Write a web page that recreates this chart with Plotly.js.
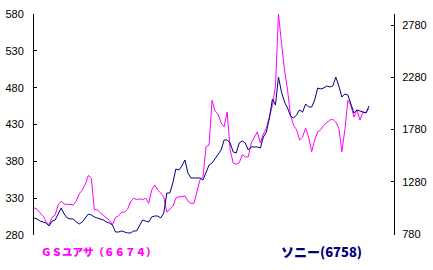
<!DOCTYPE html>
<html>
<head>
<meta charset="utf-8">
<script src="https://cdn.plot.ly/plotly-3.0.1.min.js"></script>
<style>
html,body{margin:0;padding:0;background:#fff;}
#chart{width:433px;height:270px;}
</style>
</head>
<body>
<div id="chart"></div>
<script>
// Time index (weekly samples)
const periods = Array.from({length: 112}, (_, i) => i);

// GSユアサ(6674) closing prices (left axis)
const gsYuasa = [
  317,315,310,306,298,294,304,307,321,326,
  322,322,322,321,326,336,341,349,361,357,
  314,314,310,307,304,300,294,304,306,311,
  311,315,325,330,328,329,328,330,323,341,
  348,341,337,332,311,315,319,330,332,332,
  333,326,323,323,338,355,359,400,402,463,
  448,444,432,427,447,395,378,376,378,389,
  386,386,405,413,420,405,417,425,442,456,
  481,580,541,504,477,442,429,423,409,413,
  425,413,393,409,420,423,429,433,436,437,
  433,425,393,423,463,456,440,450,436,447,
  446,452
];

// ソニー(6758) closing prices (right axis)
const sony = [
  933,924,904,895,885,857,904,914,971,1029,
  971,933,924,924,895,876,895,933,971,962,
  943,933,924,914,895,885,866,799,799,809,
  799,790,790,809,809,857,914,904,895,943,
  952,952,933,981,1172,1172,1268,1402,1392,1431,
  1488,1364,1316,1316,1316,1316,1297,1373,1440,1459,
  1498,1536,1584,1680,1680,1651,1565,1555,1651,1670,
  1651,1584,1613,1613,1613,1603,1708,1756,1890,2072,
  2014,2282,2139,2043,1986,1909,1890,1919,1967,1947,
  2024,1995,1995,2062,2177,2168,2177,2196,2187,2196,
  2282,2196,2091,2120,2110,2024,1938,1967,1957,1947,
  1938,2005
];

const leftTicks = [280, 330, 380, 430, 480, 530, 580];
const rightTicks = [780, 1280, 1780, 2280, 2780];
const gsLabel = 'ＧＳユアサ（６６７４）';
const sonyLabel = 'ソニー(6758)';

const traces = [
  {x: periods, y: gsYuasa, type: 'scatter', mode: 'lines', yaxis: 'y',
   line: {color: '#FF00FF', width: 1}, hoverinfo: 'skip'},
  {x: periods, y: sony, type: 'scatter', mode: 'lines', yaxis: 'y2',
   line: {color: '#000080', width: 1}, hoverinfo: 'skip'}
];

const tickFont = {family: 'Liberation Sans, Arial, sans-serif', size: 11, color: '#000'};

const layout = {
  width: 433, height: 270,
  margin: {l: 34, r: 39, t: 14, b: 35, pad: 0},
  paper_bgcolor: '#fff', plot_bgcolor: '#fff',
  showlegend: false,
  xaxis: {range: [0, 119.28], visible: false, fixedrange: true},
  yaxis: {
    range: [280, 580], tickvals: leftTicks, ticktext: leftTicks.map(String),
    showline: true, linecolor: '#000', linewidth: 1,
    ticks: 'inside', ticklen: 3, tickcolor: '#000', tickwidth: 1,
    showgrid: false, zeroline: false, tickfont: tickFont,
    ticklabelstandoff: 7
  },
  yaxis2: {
    range: [770.4, 2885.3], tickvals: rightTicks, ticktext: rightTicks.map(String),
    overlaying: 'y', side: 'right', anchor: 'x',
    showline: true, linecolor: '#000', linewidth: 1,
    ticks: 'inside', ticklen: 3, tickcolor: '#000', tickwidth: 1,
    showgrid: false, zeroline: false, tickfont: tickFont,
    ticklabelstandoff: 5
  },
  annotations: [
    {text: gsLabel, xref: 'paper', yref: 'paper', x: 0, y: 0,
     xanchor: 'left', yanchor: 'middle', xshift: 5, yshift: -16, showarrow: false,
     font: {family: 'Noto Sans CJK JP, sans-serif', size: 10.5, color: '#FF00FF', weight: 900}},
    {text: sonyLabel, xref: 'paper', yref: 'paper', x: 0.6806, y: 0,
     xanchor: 'left', yanchor: 'middle', xshift: 0, yshift: -16, showarrow: false,
     font: {family: 'Noto Sans CJK JP, sans-serif', size: 13, color: '#000080', weight: 900}}
  ]
};

Plotly.newPlot('chart', traces, layout, {staticPlot: true, displayModeBar: false});
</script>
</body>
</html>
